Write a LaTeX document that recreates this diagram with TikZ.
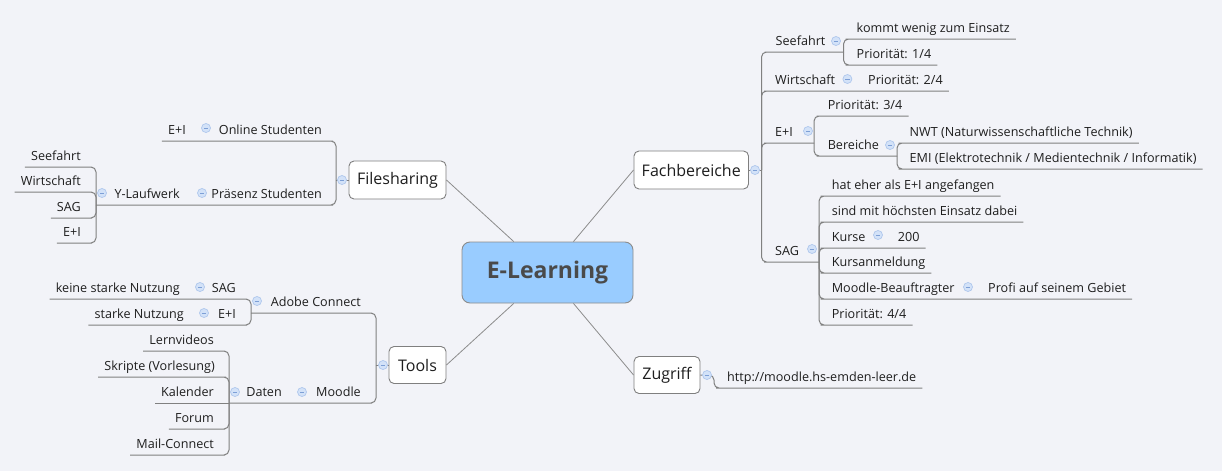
\documentclass[tikz,border=0pt]{standalone}
\usepackage{fontspec}
\setmainfont{Open Sans}
\definecolor{bg}{HTML}{F2F3F8}
\definecolor{conn}{HTML}{808080}
\definecolor{mainln}{HTML}{8C8C8C}
\definecolor{txt}{HTML}{1E1E1E}
\definecolor{boxln}{HTML}{7F7F7F}
\definecolor{cfill}{HTML}{99CCFF}
\definecolor{ctext}{HTML}{4A4A4A}
\definecolor{mkfill}{HTML}{D3E2F8}
\definecolor{mkline}{HTML}{AFC7EC}
\definecolor{mkminus}{HTML}{7D9FD6}
\tikzset{
  tp/.style={font=\fontsize{12.6}{14}\selectfont, text=txt, inner xsep=6pt, inner ysep=3.5pt, text height=9pt, text depth=3pt},
  rt/.style={tp, anchor=south west},
  lt/.style={tp, anchor=south east},
  cn/.style={draw=conn, line width=1pt, rounded corners=5pt},
  mainconn/.style={draw=mainln, line width=0.8pt},
  topicbox/.style={draw=boxln, line width=0.9pt, fill=white, rounded corners=5pt, font=\fontsize{16}{18}\selectfont, text=txt, inner sep=0pt},
  centerbox/.style={draw=mainln, line width=0.9pt, fill=cfill, rounded corners=8pt, font=\fontsize{23}{26}\selectfont\bfseries, text=ctext, inner sep=0pt, minimum width=171pt, minimum height=61pt},
  mk/.style={circle, draw=mkline, line width=0.7pt, fill=mkfill, minimum size=9pt, inner sep=0pt,
    path picture={\draw[mkminus, line width=0.9pt] ([xshift=-2.2pt]path picture bounding box.center) -- ([xshift=2.2pt]path picture bounding box.center);}}
}
\begin{document}
\begin{tikzpicture}[x=1pt,y=-1pt]
\useasboundingbox (0,0) rectangle (1222,471);
\fill[bg] (0,0) rectangle (1222,471);

% central and main topics
\node[centerbox] (el) at (547.5,272.5) {E-Learning};
\node[topicbox, minimum width=114.5pt, minimum height=38pt] (fb) at (691.25,170) {Fachbereiche};
\node[topicbox, minimum width=97pt, minimum height=38pt] (fs) at (397.5,180) {Filesharing};
\node[topicbox, minimum width=57pt, minimum height=37pt] (tools) at (417.5,365) {Tools};
\node[topicbox, minimum width=66pt, minimum height=37pt] (zug) at (667,375) {Zugriff};

% trunk points
\coordinate (tF) at (761.5,170);
\coordinate (tSee) at (843.5,52);
\coordinate (tEI) at (814,143);
\coordinate (tBer) at (897,156);
\coordinate (tSAG) at (819,262);
\coordinate (tZ) at (714,375);
\coordinate (tFS) at (336,180);
\coordinate (tY) at (96,205);
\coordinate (tT) at (376,365);
\coordinate (tAdo) at (251,313);
\coordinate (tDat) at (229,403);

% right side topics
\node[rt] (see) at (769.5,52) {Seefahrt};
\node[rt] (kom) at (850.5,39) {kommt wenig zum Einsatz};
\node[rt] (p1) at (850.5,65) {Priorität: 1/4};
\node[rt] (wir) at (769,91) {Wirtschaft};
\node[rt] (p2) at (862,91) {Priorität: 2/4};
\node[rt] (eiF) at (769,143) {E+I};
\node[rt] (p3) at (821.6,116) {Priorität: 3/4};
\node[rt] (ber) at (821.6,156) {Bereiche};
\node[rt] (nwt) at (903.5,143) {NWT (Naturwissenschaftliche Technik)};
\node[rt] (emi) at (903.5,169) {EMI (Elektrotechnik / Medientechnik / Informatik)};
\node[rt] (sag) at (769,262) {SAG};
\node[rt] (hat) at (825.6,196) {hat eher als E+I angefangen};
\node[rt] (sind) at (825.6,222) {sind mit höchsten Einsatz dabei};
\node[rt] (kur) at (825.6,248) {Kurse};
\node[rt] (k200) at (891.7,248) {200};
\node[rt] (kan) at (825.6,273) {Kursanmeldung};
\node[rt] (mb) at (825.6,299) {Moodle-Beauftragter};
\node[rt] (profi) at (982,299) {Profi auf seinem Gebiet};
\node[rt] (p4) at (825.6,325) {Priorität: 4/4};
\node[rt] (url) at (721,388) {http://moodle.hs-emden-leer.de};

% left side topics
\node[lt] (onl) at (328,141) {Online Studenten};
\node[lt] (eiO) at (192,141) {E+I};
\node[lt] (pra) at (328,205) {Präsenz Studenten};
\node[lt] (ylw) at (186,205) {Y-Laufwerk};
\node[lt] (seeL) at (87,167) {Seefahrt};
\node[lt] (wirL) at (87,192) {Wirtschaft};
\node[lt] (sagL) at (87,218) {SAG};
\node[lt] (eiL) at (87,243) {E+I};
\node[lt] (ado) at (367,313) {Adobe Connect};
\node[lt] (sagT) at (242,299) {SAG};
\node[lt] (kein) at (186,299) {keine starke Nutzung};
\node[lt] (eiT) at (242,325) {E+I};
\node[lt] (stark) at (190,325) {starke Nutzung};
\node[lt] (moo) at (367,403) {Moodle};
\node[lt] (dat) at (288,403) {Daten};
\node[lt] (lern) at (220,351) {Lernvideos};
\node[lt] (skr) at (221,377) {Skripte (Vorlesung)};
\node[lt] (kal) at (220,403) {Kalender};
\node[lt] (forum) at (220,429) {Forum};
\node[lt] (mail) at (220,455) {Mail-Connect};

% main connectors
\draw[mainconn] (el) -- (fs.east);
\draw[mainconn] (el) -- (fb.west);
\draw[mainconn] (el) -- (tools.east);
\draw[mainconn] (el) -- (zug.west);

% Fachbereiche
\draw[cn] (fb.east) -- (tF);
\draw[cn] (tF) |- (see.south west) -- (tSee);
\draw[cn] (tSee) |- (kom.south west) -- (kom.south east);
\draw[cn] (tSee) |- (p1.south west) -- (p1.south east);
\draw[cn] (tF) |- (wir.south west) -- (p2.south east);
\draw[cn] (tF) |- (eiF.south west) -- (tEI);
\draw[cn] (tEI) |- (p3.south west) -- (p3.south east);
\draw[cn] (tEI) |- (ber.south west) -- (tBer);
\draw[cn] (tBer) |- (nwt.south west) -- (nwt.south east);
\draw[cn] (tBer) |- (emi.south west) -- (emi.south east);
\draw[cn] (tF) |- (sag.south west) -- (tSAG);
\draw[cn] (tSAG) |- (hat.south west) -- (hat.south east);
\draw[cn] (tSAG) |- (sind.south west) -- (sind.south east);
\draw[cn] (tSAG) |- (kur.south west) -- (k200.south east);
\draw[cn] (tSAG) |- (kan.south west) -- (kan.south east);
\draw[cn] (tSAG) |- (mb.south west) -- (profi.south east);
\draw[cn] (tSAG) |- (p4.south west) -- (p4.south east);

% Zugriff
\draw[cn] (zug.east) -- (tZ) |- (url.south west) -- (url.south east);

% Filesharing
\draw[cn] (fs.west) -- (tFS);
\draw[cn] (tFS) |- (onl.south east) -- (eiO.south west);
\draw[cn] (tFS) |- (pra.south east) -- (tY);
\draw[cn] (tY) |- (seeL.south east) -- (seeL.south west);
\draw[cn] (tY) |- (wirL.south east) -- (wirL.south west);
\draw[cn] (tY) |- (sagL.south east) -- (sagL.south west);
\draw[cn] (tY) |- (eiL.south east) -- (eiL.south west);

% Tools
\draw[cn] (tools.west) -- (tT);
\draw[cn] (tT) |- (ado.south east) -- (tAdo);
\draw[cn] (tAdo) |- (sagT.south east) -- (kein.south west);
\draw[cn] (tAdo) |- (eiT.south east) -- (stark.south west);
\draw[cn] (tT) |- (moo.south east) -- (tDat);
\draw[cn] (tDat) |- (lern.south east) -- (lern.south west);
\draw[cn] (tDat) |- (skr.south east) -- (skr.south west);
\draw[cn] (tDat) -- (kal.south west);
\draw[cn] (tDat) |- (forum.south east) -- (forum.south west);
\draw[cn] (tDat) |- (mail.south east) -- (mail.south west);

% collapse markers
\node[mk] (mF) at (755,170) {};
\node[mk] (mSee) at (836,41) {};
\node[mk] (mWir) at (847.4,79) {};
\node[mk] (mEI) at (808,131) {};
\node[mk] (mBer) at (890,145) {};
\node[mk] (mSAG) at (812,249) {};
\node[mk] (mKur) at (878,235) {};
\node[mk] (mMB) at (968,287) {};
\node[mk] (mZ) at (707,375) {};
\node[mk] (mFS) at (342,180) {};
\node[mk] (mOnl) at (206,128) {};
\node[mk] (mPra) at (202,193) {};
\node[mk] (mY) at (102,193) {};
\node[mk] (mT) at (383,365) {};
\node[mk] (mAdo) at (257,301) {};
\node[mk] (mSagT) at (200,287) {};
\node[mk] (mEiT) at (204,313) {};
\node[mk] (mMoo) at (302,392) {};
\node[mk] (mDat) at (235,392) {};
\end{tikzpicture}
\end{document}
